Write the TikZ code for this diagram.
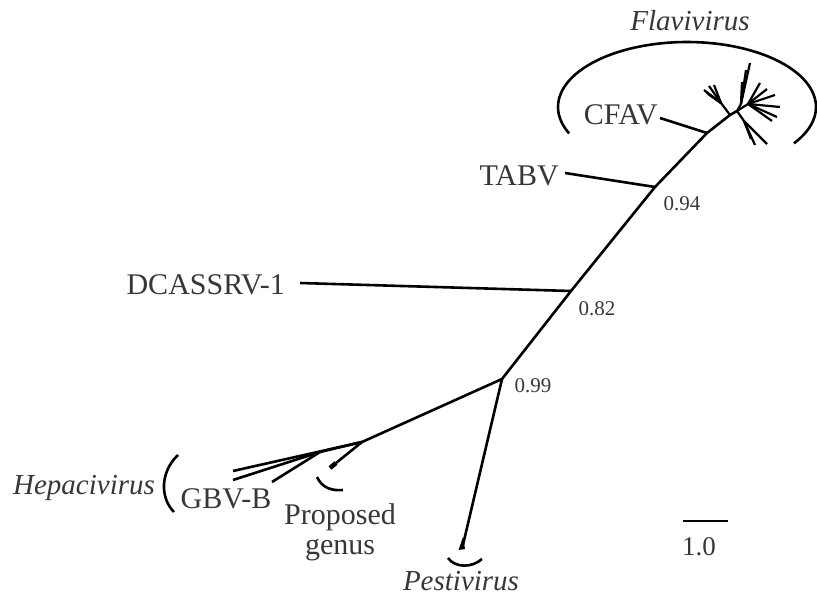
\documentclass[tikz,border=0pt]{standalone}
\usepackage{fontspec}
\setmainfont{Liberation Serif}
\definecolor{txt}{RGB}{55,55,55}
\begin{document}
\begin{tikzpicture}[x=1pt,y=-1pt,
  branch/.style={line width=2.6pt},
  twig/.style={line width=2.2pt},
  taxon/.style={font=\fontsize{30}{30}\selectfont, text=txt, inner sep=0pt},
  clade/.style={font=\fontsize{29}{29}\selectfont\itshape, text=txt, inner sep=0pt},
  support/.style={font=\fontsize{21}{21}\selectfont, text=txt, inner sep=0pt}]
\useasboundingbox (0,0) rectangle (817,601);

% internal nodes of the tree
\coordinate (R)  at (502,379);
\coordinate (D)  at (571,291);
\coordinate (T)  at (655,187);
\coordinate (C)  at (707,133);
\coordinate (F1) at (730,115);
\coordinate (F2) at (737,111);
\coordinate (L)  at (721,103);
\coordinate (U)  at (741,104);
\coordinate (S)  at (748,104);
\coordinate (W)  at (744,121);
\coordinate (H1) at (362,442);
\coordinate (H2) at (320,452);

% tips
\coordinate (dEnd) at (300,283);
\coordinate (tEnd) at (565,173);
\coordinate (cEnd) at (660,118);
\coordinate (hA) at (233,471);
\coordinate (hB) at (233,480);
\coordinate (hC) at (272,482);
\coordinate (pg) at (330,468);
\coordinate (pg2) at (336,463);
\coordinate (pe) at (462,549);

% backbone
\draw[branch] (H1) -- (R) -- (D) -- (T) -- (C) -- (F1) -- (F2);
\draw[branch] (D) -- (dEnd);
\draw[branch] (T) -- (tEnd);
\draw[branch] (C) -- (cEnd);

% flavivirus radiation
\draw[twig] (F1) -- (L);
\foreach \p in {(704,90),(709,86),(714,85),(708,94),(706,92)} \draw[twig] (L) -- \p;
\draw[twig] (F2) -- (U);
\foreach \p in {(750,63),(746,70),(742,82)} \draw[twig] (U) -- \p;
\draw[twig] (F2) -- (S);
\foreach \p in {(760,83),(767,89),(775,95),(780,107),(777,117),(772,121)} \draw[twig] (S) -- \p;
\draw[twig] (F2) -- (W);
\foreach \p in {(755,145),(767,144),(751,139)} \draw[twig] (W) -- \p;

% hepacivirus and proposed genus
\draw[branch] (H1) -- (hA);
\draw[branch] (H1) -- (H2);
\draw[branch] (H2) -- (hB);
\draw[branch] (H2) -- (hC);
\draw[branch] (H1) -- (pg2);
\draw[line width=4.5pt] (pg2) -- (pg);

% pestivirus
\draw[branch] (R) -- (pe);
\fill (458.5,550) -- (465,549) -- (463,537) -- cycle;

% clade brackets
\draw[line width=2.6pt] plot[domain=156:394, samples=80] ({687+129*cos(\x)},{107+65*sin(\x)});
\draw[line width=2.6pt] (178,455) .. controls (160,472) and (160,498) .. (174,512);
\draw[line width=2.6pt] (317,477) .. controls (322,488) and (332,491) .. (343,490);
\draw[line width=2.6pt] (448,558) .. controls (455,568) and (472,568) .. (482,559);

% labels
\node[taxon, anchor=base east] (cfav) at (658,125) {CFAV};
\node[taxon, anchor=base east] (tabv) at (559,186) {TABV};
\node[taxon, anchor=base east] (dcas) at (285,295) {DCASSRV-1};
\node[taxon, anchor=base] (gbvb) at (226,508) {GBV-B};
\node[taxon, anchor=base] (prop) at (340,525) {Proposed};
\node[taxon, anchor=base] (gen) at (340,554) {genus};
\node[clade, anchor=base] (flavi) at (690,31) {Flavivirus};
\node[clade, anchor=base] (hepa) at (84,495) {Hepacivirus};
\node[clade, anchor=base] (pesti) at (461,590) {Pestivirus};

\node[support] (s94) at (682,204) {0.94};
\node[support] (s82) at (597,309) {0.82};
\node[support] (s99) at (533,386) {0.99};

% scale bar
\coordinate (sb1) at (683,521);
\coordinate (sb2) at (728,521);
\draw[line width=1.6pt] (sb1) -- (sb2);
\node[taxon, font=\fontsize{27}{27}\selectfont, anchor=base] (scl) at (699,555) {1.0};
\end{tikzpicture}
\end{document}
